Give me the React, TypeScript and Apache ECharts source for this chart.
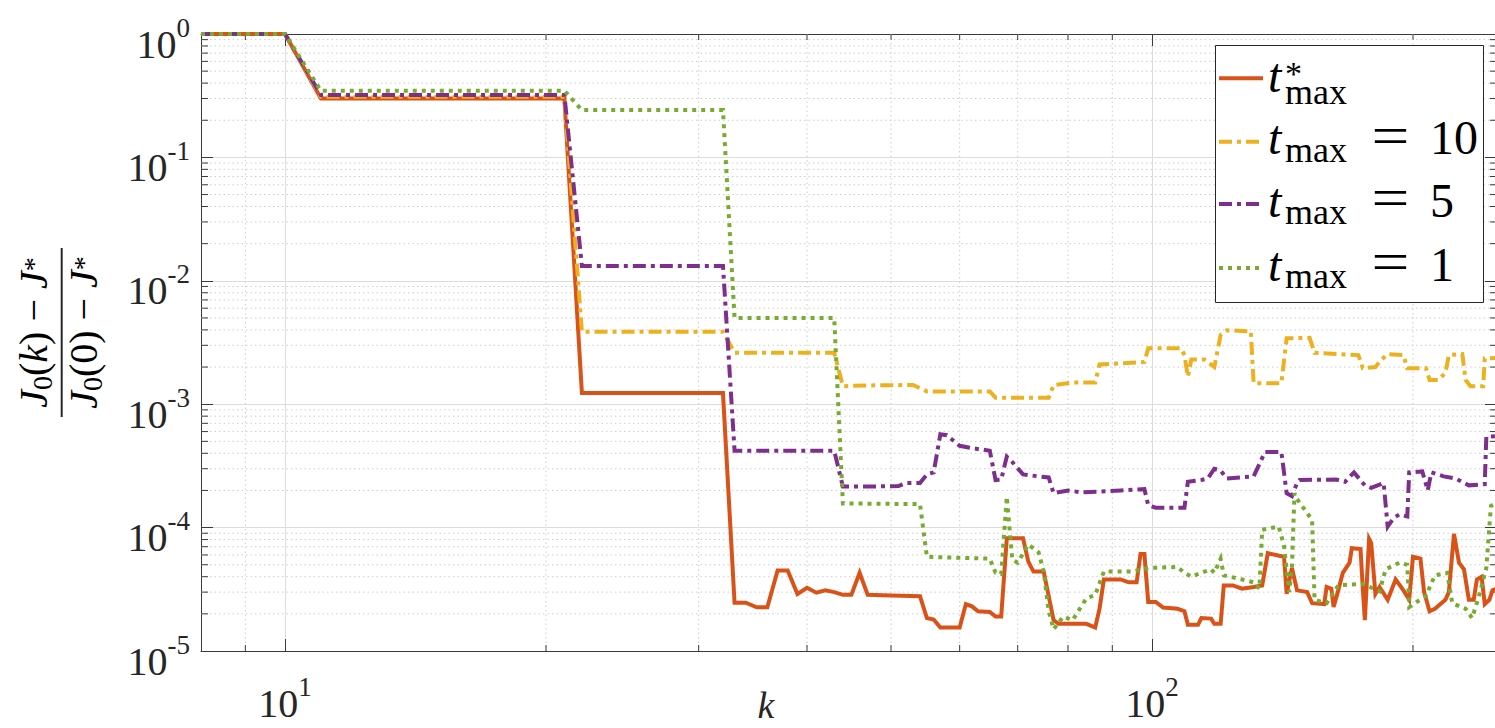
import React, { useEffect, useRef } from 'react';
import * as echarts from 'echarts';

// ---------- data (k, normalised cost gap) ----------
const tStarMax: [number, number][] = [
  [8, 1], [9, 1], [10, 1], [11, 0.3], [21, 0.3], [22, 1.23e-3], [32, 1.23e-3], [33, 2.46e-5], [34, 2.46e-5],
  [35, 2.26e-5], [36, 2.26e-5], [37, 4.5e-5], [38, 4.5e-5], [39, 2.9e-5], [40, 3.25e-5], [41, 2.97e-5], [42, 3.1e-5],
  [43, 3.0e-5], [44, 2.85e-5], [45, 2.85e-5], [46, 4.3e-5], [47, 2.85e-5], [50, 2.82e-5], [54, 2.78e-5], [55, 1.85e-5],
  [56, 1.8e-5], [57, 1.55e-5], [60, 1.55e-5], [61, 2.4e-5], [62, 2.3e-5], [63, 2.1e-5], [65, 2.07e-5], [66, 1.9e-5],
  [67, 1.9e-5], [68, 8.2e-5], [71, 8.2e-5], [72, 5.3e-5], [73, 4.4e-5], [75, 4.4e-5], [77, 1.78e-5], [78, 1.66e-5],
  [84, 1.66e-5], [86, 1.55e-5], [87, 2.2e-5], [88, 3.8e-5], [92, 3.8e-5], [94, 3.6e-5], [96, 3.6e-5], [97, 6.1e-5],
  [98, 6.1e-5], [99, 2.5e-5], [101, 2.5e-5], [103, 2.25e-5], [107, 2.2e-5], [109, 2.1e-5], [110, 1.63e-5], [113, 1.63e-5],
  [114, 1.85e-5], [117, 1.83e-5], [118, 1.66e-5], [120, 1.66e-5], [121, 3.4e-5], [124, 3.4e-5], [127, 3.2e-5],
  [131, 3.3e-5], [134, 3.4e-5], [136, 6.2e-5], [139, 6.0e-5], [142, 5.8e-5], [143, 2.9e-5], [145, 4.7e-5], [147, 3.1e-5],
  [151, 3.0e-5], [153, 2.44e-5], [158, 2.4e-5], [159, 3.3e-5], [161, 3.2e-5], [162, 2.27e-5], [164, 3.1e-5],
  [166, 4.3e-5], [169, 5.2e-5], [170, 6.8e-5], [174, 6.7e-5], [175, 3.3e-5], [176, 1.78e-5], [178, 8.1e-5],
  [179, 7.5e-5], [181, 2.9e-5], [183, 3.3e-5], [187, 2.6e-5], [191, 3.8e-5], [195, 3.1e-5], [198, 2.6e-5],
  [200, 5.8e-5], [204, 5.6e-5], [206, 3.0e-5], [209, 2.1e-5], [212, 2.2e-5], [218, 2.6e-5], [220, 3.0e-5],
  [223, 8.9e-5], [226, 5.2e-5], [229, 4.6e-5], [232, 2.6e-5], [235, 2.6e-5], [237, 3.8e-5], [240, 4.0e-5],
  [242, 2.4e-5], [245, 2.6e-5], [247, 3.1e-5], [250, 3.2e-5],
];

const tMax10: [number, number][] = [
  [8, 1], [9, 1], [10, 1], [11, 0.31], [21, 0.31], [22, 3.87e-3], [32, 3.87e-3], [33, 2.61e-3], [43, 2.61e-3],
  [44, 1.4e-3], [47, 1.42e-3], [53, 1.43e-3], [55, 1.27e-3], [65, 1.27e-3], [66, 1.13e-3], [76, 1.13e-3],
  [77, 1.43e-3], [81, 1.5e-3], [86, 1.5e-3], [87, 2.1e-3], [98, 2.2e-3], [99, 2.84e-3], [108, 2.84e-3],
  [109, 2.5e-3], [110, 1.67e-3], [111, 2.3e-3], [115, 2.3e-3], [118, 2.0e-3], [120, 3.64e-3], [122, 3.97e-3],
  [130, 3.9e-3], [131, 1.48e-3], [141, 1.48e-3], [143, 3.42e-3], [152, 3.45e-3], [154, 2.61e-3], [173, 2.5e-3],
  [175, 1.96e-3], [181, 2.0e-3], [184, 2.3e-3], [187, 2.55e-3], [195, 2.5e-3], [197, 1.96e-3], [207, 1.96e-3],
  [209, 1.57e-3], [214, 1.57e-3], [218, 1.8e-3], [220, 2.5e-3], [228, 2.55e-3], [230, 1.57e-3], [233, 1.4e-3],
  [241, 1.4e-3], [242, 2.35e-3], [250, 2.37e-3],
];

const tMax5: [number, number][] = [
  [8, 1], [9, 1], [10, 1], [11, 0.32], [21, 0.32], [22, 0.0132], [32, 0.0132], [33, 4.2e-4], [43, 4.2e-4],
  [44, 2.15e-4], [47, 2.15e-4], [51, 2.17e-4], [52, 2.3e-4], [54, 2.3e-4], [55, 2.7e-4], [56, 2.8e-4], [57, 5.7e-4],
  [58, 5.6e-4], [60, 4.6e-4], [62, 4.4e-4], [65, 4.2e-4], [66, 2.43e-4], [67, 2.45e-4], [68, 3.76e-4], [69, 3.4e-4],
  [71, 2.7e-4], [74, 2.6e-4], [76, 2.55e-4], [77, 1.9e-4], [80, 2.0e-4], [83, 1.93e-4], [92, 2.0e-4], [98, 2.05e-4],
  [99, 1.52e-4], [101, 1.45e-4], [109, 1.45e-4], [110, 2.35e-4], [114, 2.43e-4], [116, 2.5e-4], [118, 3.0e-4],
  [120, 2.9e-4], [122, 2.5e-4], [131, 2.6e-4], [135, 4.1e-4], [141, 4.1e-4], [143, 1.9e-4], [145, 1.8e-4],
  [147, 2.3e-4], [148, 2.43e-4], [163, 2.45e-4], [167, 2.35e-4], [171, 2.8e-4], [176, 2.2e-4], [179, 2.1e-4],
  [185, 2.3e-4], [187, 1.02e-4], [190, 1.2e-4], [193, 1.28e-4], [197, 1.23e-4], [198, 2.8e-4], [205, 2.85e-4],
  [208, 2.0e-4], [210, 2.8e-4], [217, 2.6e-4], [224, 2.5e-4], [232, 2.2e-4], [242, 2.25e-4], [243, 5.46e-4],
  [250, 5.5e-4],
];

const tMax1: [number, number][] = [
  [8, 1], [9, 1], [10, 1], [11, 0.347], [21, 0.347], [22, 0.242], [32, 0.242], [33, 5.0e-3], [43, 5.0e-3],
  [44, 1.57e-4], [54, 1.55e-4], [55, 5.8e-5], [65, 5.6e-5], [66, 4.3e-5], [67, 4.2e-5], [68, 1.78e-4], [69, 5.5e-5],
  [70, 5.2e-5], [72, 7.3e-5], [74, 6.3e-5], [75, 4.4e-5], [76, 2.1e-5], [77, 1.5e-5], [79, 1.9e-5], [81, 1.78e-5],
  [84, 2.67e-5], [86, 2.84e-5], [88, 4.4e-5], [95, 4.4e-5], [99, 4.7e-5], [107, 4.8e-5], [109, 4.3e-5], [111, 4.0e-5],
  [114, 4.3e-5], [117, 4.6e-5], [118, 4.3e-5], [120, 5.6e-5], [121, 4.1e-5], [127, 3.8e-5], [131, 3.6e-5],
  [133, 3.2e-5], [134, 9.6e-5], [140, 1.02e-4], [142, 7.1e-5], [144, 3.0e-5], [145, 4.7e-5], [146, 1.9e-4],
  [147, 1.7e-4], [150, 1.4e-4], [153, 1.15e-4], [154, 2.6e-5], [159, 2.44e-5], [164, 3.4e-5], [175, 3.5e-5],
  [183, 3.05e-5], [186, 4.6e-5], [193, 5.2e-5], [197, 5.0e-5], [198, 2.27e-5], [207, 2.8e-5], [212, 4.1e-5],
  [219, 4.3e-5], [222, 2.44e-5], [230, 2.2e-5], [234, 1.85e-5], [238, 2.7e-5], [243, 4.7e-5], [246, 1.5e-4],
  [250, 1.6e-4],
];

const xRange = [8, 250];
const yRange = [1e-5, 1];
const xMinorTicks = [9, 20, 30, 40, 50, 60, 70, 80, 90, 200];
const yMinorMantissas = [2, 3, 4, 5, 6, 7, 8, 9];
const yMinorDecades = [-5, -4, -3, -2, -1];
const legendValues = ['10', '5', '1'];

const SERIF = 'Liberation Serif';
const AX = '#3a3a3a';
const TXT = '#262626';
const COLORS = ['#D95319', '#EDB120', '#7E2F8E', '#77AC30'];
const DASHDOT = [13, 5, 4, 5];
const DOTTED = [4, 5];
const LW = 4;

const yMinorTicks: number[] = [];
yMinorDecades.forEach((d) => yMinorMantissas.forEach((m) => yMinorTicks.push(m * Math.pow(10, d))));

const powLabel = (v: number) => {
  const e = Math.log10(v);
  const r = Math.round(e);
  return Math.abs(e - r) < 1e-6 ? `{b|10}{s|${r}}` : '';
};
const labelRich = {
  b: { fontFamily: SERIF, fontSize: 40, color: TXT, lineHeight: 50, verticalAlign: 'bottom' },
  s: { fontFamily: SERIF, fontSize: 27, color: TXT, lineHeight: 27, verticalAlign: 'top' },
};

export default function App() {
  const ref = useRef<HTMLDivElement>(null);
  useEffect(() => {
    if (!ref.current) return;
    const chart = echarts.init(ref.current, null, { renderer: 'svg' });

    const xBase: any = { type: 'log', logBase: 10, min: xRange[0], max: xRange[1] };
    const yBase: any = { type: 'log', logBase: 10, min: yRange[0], max: yRange[1] };
    const axLine = { show: true, onZero: false, lineStyle: { color: AX, width: 1 } };
    const axTick = { show: true, inside: true, length: 12, lineStyle: { color: AX, width: 1 } };
    const major = { show: true, lineStyle: { color: '#dcdcdc', width: 1 } };

    const minorStyleGrid = { stroke: '#cdcdcd', lineWidth: 1, lineDash: [1.5, 3] };
    const minorStyleTick = { stroke: AX, lineWidth: 1 };

    const lineSeries = (name: string, data: [number, number][], i: number, type: any) => ({
      name,
      type: 'line',
      data,
      showSymbol: false,
      symbol: 'none',
      z: 3 + i,
      silent: true,
      lineStyle: { color: COLORS[i], width: LW, type, cap: 'butt', join: 'miter' },
    });

    const txt = (text: string, x: number, y: number, fontSize: number, italic: boolean, align = 'left', scaleX = 1) => ({
      type: 'text', z: 101, x, y, scaleX,
      style: {
        text, fontFamily: SERIF, fontStyle: italic ? 'italic' : 'normal', fontSize, fill: '#000',
        align, verticalAlign: 'middle',
      },
    });

    const legendRows = [78.3, 141.7, 204, 268];
    const legendStyles: any[] = [[], DASHDOT, DASHDOT, DOTTED];
    const legendGraphic: any[] = [
      {
        type: 'rect', z: 100, shape: { x: 1215.5, y: 45.5, width: 268, height: 257 },
        style: { fill: '#fff', stroke: '#262626', lineWidth: 1 },
      },
    ];
    legendRows.forEach((L, i) => {
      legendGraphic.push({
        type: 'line', z: 101, shape: { x1: 1219, y1: L, x2: 1263, y2: L },
        style: { stroke: COLORS[i], lineWidth: LW, lineDash: i === 0 ? null : legendStyles[i] },
      });
      legendGraphic.push(txt('t', 1268, i === 0 ? 75.8 : L - 3.9, 48, true));
      if (i === 0) {
        // superscript * stacked over subscript "max"
        legendGraphic.push({
          type: 'text', z: 101, x: 1285, y: 65.9,
          style: {
            text: '{a|*}\n{b|max}', align: 'left', verticalAlign: 'top', fontFamily: SERIF,
            rich: {
              a: { fontFamily: SERIF, fontSize: 34, lineHeight: 16, fill: '#000' },
              b: { fontFamily: SERIF, fontSize: 36, lineHeight: 20, fill: '#000' },
            },
          },
        });
      } else {
        legendGraphic.push(txt('max', 1285, L + 8.2, 36, false));
        legendGraphic.push(txt('=', 1390.5, L - 5.7, 56, false, 'center', 1.2));
        legendGraphic.push(txt(legendValues[i - 1], 1430, L - 3.9, 48, false));
      }
    });

    const fracRich = {
      i: { fontFamily: SERIF, fontStyle: 'italic', fontSize: 40, lineHeight: 46, color: TXT, verticalAlign: 'middle' },
      n: { fontFamily: SERIF, fontSize: 40, lineHeight: 46, color: TXT, verticalAlign: 'middle' },
      sub: { fontFamily: SERIF, fontSize: 28, lineHeight: 28, color: TXT, verticalAlign: 'bottom' },
      sup: { fontFamily: SERIF, fontSize: 28, lineHeight: 28, color: TXT, verticalAlign: 'middle' },
    };

    const option: any = {
      animation: false,
      backgroundColor: '#fff',
      textStyle: { fontFamily: SERIF },
      grid: { left: 201, top: 34, width: 1298.1, height: 617, containLabel: false },
      xAxis: [
        {
          ...xBase, position: 'bottom', axisLine: axLine, axisTick: axTick, splitLine: major,
          axisLabel: { formatter: powLabel, rich: labelRich, margin: 22, color: TXT, fontFamily: SERIF },
        },
        {
          ...xBase, position: 'top', axisLine: axLine, axisTick: axTick, splitLine: { show: false },
          axisLabel: { show: false },
        },
      ],
      yAxis: [
        {
          ...yBase, position: 'left', axisLine: axLine, axisTick: axTick, splitLine: major,
          axisLabel: { formatter: powLabel, rich: labelRich, margin: 11, color: TXT, fontFamily: SERIF, padding: [10, 0, 0, 0] },
        },
        {
          ...yBase, position: 'right', axisLine: axLine, axisTick: axTick, splitLine: { show: false },
          axisLabel: { show: false },
        },
      ],
      series: [
        {
          type: 'custom', z: 1, silent: true, coordinateSystem: 'cartesian2d',
          data: xMinorTicks.map((k) => [k, yRange[0]]),
          encode: { x: 0, y: 1 },
          renderItem: (_p: any, api: any) => {
            const k = api.value(0);
            const top = api.coord([k, yRange[1]]);
            const bot = api.coord([k, yRange[0]]);
            return {
              type: 'group',
              children: [
                { type: 'line', shape: { x1: top[0], y1: top[1], x2: bot[0], y2: bot[1] }, style: minorStyleGrid },
                { type: 'line', shape: { x1: bot[0], y1: bot[1], x2: bot[0], y2: bot[1] - 6 }, style: minorStyleTick },
                { type: 'line', shape: { x1: top[0], y1: top[1], x2: top[0], y2: top[1] + 6 }, style: minorStyleTick },
              ],
            };
          },
        },
        {
          type: 'custom', z: 1, silent: true, coordinateSystem: 'cartesian2d',
          data: yMinorTicks.map((v) => [xRange[0], v]),
          encode: { x: 0, y: 1 },
          renderItem: (_p: any, api: any) => {
            const v = api.value(1);
            const l = api.coord([xRange[0], v]);
            const r = api.coord([xRange[1], v]);
            return {
              type: 'group',
              children: [
                { type: 'line', shape: { x1: l[0], y1: l[1], x2: r[0], y2: r[1] }, style: minorStyleGrid },
                { type: 'line', shape: { x1: l[0], y1: l[1], x2: l[0] + 7, y2: l[1] }, style: minorStyleTick },
                { type: 'line', shape: { x1: r[0], y1: r[1], x2: r[0] - 7, y2: r[1] }, style: minorStyleTick },
              ],
            };
          },
        },
        lineSeries('t*max', tStarMax, 0, 'solid'),
        lineSeries('tmax = 10', tMax10, 1, DASHDOT),
        lineSeries('tmax = 5', tMax5, 2, DASHDOT),
        lineSeries('tmax = 1', tMax1, 3, DOTTED),
      ],
      graphic: [
        ...legendGraphic,
        {
          type: 'group', x: 33, y: 332.5, rotation: Math.PI / 2,
          children: [{
            type: 'text',
            style: {
              text: '{i|J}{sub|0}{n|(}{i|k}{n|)}{n| − }{i|J}{sup|*}',
              rich: fracRich, align: 'center', verticalAlign: 'middle', fontFamily: SERIF,
            },
          }],
        },
        {
          type: 'line', shape: { x1: 61.7, y1: 248, x2: 61.7, y2: 417 },
          style: { stroke: TXT, lineWidth: 2 },
        },
        {
          type: 'group', x: 83.2, y: 332.5, rotation: Math.PI / 2,
          children: [{
            type: 'text',
            style: {
              text: '{i|J}{sub|0}{n|(0)}{n| − }{i|J}{sup|*}',
              rich: fracRich, align: 'center', verticalAlign: 'middle', fontFamily: SERIF,
            },
          }],
        },
        {
          type: 'text', x: 766, y: 705,
          style: { text: 'k', fontFamily: SERIF, fontStyle: 'italic', fontSize: 38, fill: TXT, align: 'center', verticalAlign: 'middle' },
        },
      ],
    };
    chart.setOption(option);
    return () => chart.dispose();
  }, []);

  return (
    <div style={{ position: 'fixed', left: 0, top: 0, width: 1495, height: 728, overflow: 'hidden', background: '#fff' }}>
      <div ref={ref} style={{ width: 1500, height: 728 }} />
    </div>
  );
}
